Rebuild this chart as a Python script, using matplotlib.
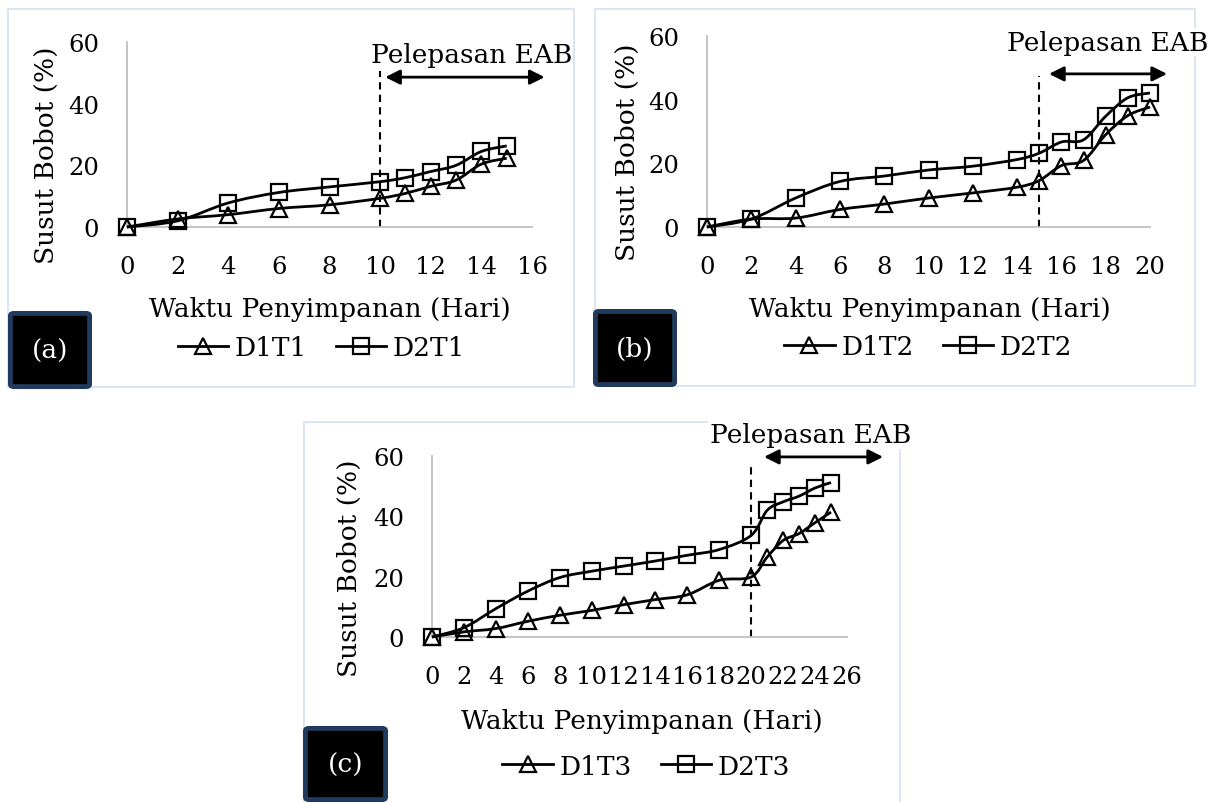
import numpy as np
import matplotlib
matplotlib.use("Agg")
import matplotlib.pyplot as plt
from matplotlib.path import Path
from matplotlib.patches import PathPatch, Rectangle, FancyBboxPatch
from matplotlib.lines import Line2D

plt.rcParams['font.family'] = ['DejaVu Serif']

# ---- data ----
hari_a = [0, 2, 4, 6, 8, 10, 11, 12, 13, 14, 15]
d1t1 = [0, 2.6, 4.0, 6.0, 7.2, 9.3, 10.9, 13.2, 15.2, 20.4, 22.3]
d2t1 = [0, 2.0, 7.8, 11.2, 13.0, 14.7, 16.0, 18.0, 20.0, 24.5, 26.3]

hari_b = [0, 2, 4, 6, 8, 10, 12, 14, 15, 16, 17, 18, 19, 20]
d1t2 = [0, 2.5, 2.8, 5.5, 7.2, 9.1, 10.7, 12.5, 14.6, 19.3, 20.9, 29.0, 35.0, 37.7]
d2t2 = [0, 2.5, 9.1, 14.3, 16.0, 17.9, 19.1, 21.2, 23.2, 26.7, 27.4, 34.8, 40.6, 42.1]

hari_c = [0, 2, 4, 6, 8, 10, 12, 14, 16, 18, 20, 21, 22, 23, 24, 25]
d1t3 = [0, 1.7, 2.8, 5.2, 7.2, 8.8, 10.7, 12.4, 14.0, 18.8, 19.9, 26.5, 32.0, 34.3, 37.9, 41.4]
d2t3 = [0, 3.1, 9.4, 15.2, 19.7, 21.8, 23.5, 25.2, 27.1, 29.0, 33.7, 42.0, 44.8, 46.7, 49.4, 51.2]

labels_a = ['D1T1', 'D2T1']
labels_b = ['D1T2', 'D2T2']
labels_c = ['D1T3', 'D2T3']
pelepasan = [10, 15, 20]      # hari mulai pelepasan EAB
xmax = [16, 20, 26]
yticks = [0, 20, 40, 60]

W, H = 1208, 803
fig = plt.figure(figsize=(W / 100, H / 100), dpi=100)


def px(x0, y0, x1, y1):
    # pixel box (top-left origin) -> figure fraction rect
    return [x0 / W, 1 - y1 / H, (x1 - x0) / W, (y1 - y0) / H]


def smooth_path(x, y):
    # excel-like smoothed line (catmull-rom as bezier)
    P = np.column_stack([x, y]).astype(float)
    n = len(P)
    verts = [P[0]]
    codes = [Path.MOVETO]
    for i in range(n - 1):
        p0 = P[i - 1] if i > 0 else P[i]
        p1 = P[i]
        p2 = P[i + 1]
        p3 = P[i + 2] if i + 2 < n else P[i + 1]
        verts += [p1 + (p2 - p0) / 6, p2 - (p3 - p1) / 6, p2]
        codes += [Path.CURVE4] * 3
    return Path(verts, codes)


FS_TICK = 17.5
FS_LAB = 19

panels = [
    dict(rect=px(127, 43, 532, 228), x=hari_a, s1=d1t1, s2=d2t1, lab=labels_a,
         rel=pelepasan[0], xmax=xmax[0], dash_top=50.6, arr=(10.2, 16.5, 48.6),
         txt=(13.6, 56.1), xl=(0.501, -0.443), yl=(-0.20, 0.395), lg=(0.481, -0.654),
         frame=(8, 10, 574, 388), box=(8, 312, 92, 390), tag='(a)'),
    dict(rect=px(707, 37, 1150, 228), x=hari_b, s1=d1t2, s2=d2t2, lab=labels_b,
         rel=pelepasan[1], xmax=xmax[1], dash_top=47.4, arr=(15.44, 20.77, 48.1),
         txt=(18.1, 58.1), xl=(0.503, -0.429), yl=(-0.18, 0.398), lg=(0.499, -0.628),
         frame=(595, 10, 1195, 387), box=(593, 310, 677, 388), tag='(b)'),
    dict(rect=px(432, 457, 847, 638), x=hari_c, s1=d1t3, s2=d2t3, lab=labels_c,
         rel=pelepasan[2], xmax=xmax[2], dash_top=58.0, arr=(20.8, 28.26, 59.7),
         txt=(23.7, 67.0), xl=(0.506, -0.464), yl=(-0.20, 0.387), lg=(0.516, -0.713),
         frame=(304, 423, 900, 806), box=(303, 727, 388, 803), tag='(c)'),
]

# frames first so they sit behind
for p in panels:
    x0, y0, x1, y1 = p['frame']
    fig.patches.append(Rectangle((x0 / W, 1 - y1 / H), (x1 - x0) / W, (y1 - y0) / H,
                                 transform=fig.transFigure, fill=False,
                                 edgecolor='#DAE3F3', linewidth=1.3, zorder=-1))

for p in panels:
    ax = fig.add_axes(p['rect'])
    ax.set_xlim(0, p['xmax'])
    ax.set_ylim(0, 60)
    ax.set_xticks(np.arange(0, p['xmax'] + 1, 2))
    ax.set_yticks(yticks)
    ax.tick_params(length=0, labelsize=FS_TICK)
    ax.tick_params(axis='x', pad=20)
    ax.tick_params(axis='y', pad=20)
    for s in ['top', 'right']:
        ax.spines[s].set_visible(False)
    for s in ['left', 'bottom']:
        ax.spines[s].set_color('#BFBFBF')
        ax.spines[s].set_linewidth(1.3)
    ax.patch.set_alpha(0)

    for yy, mk, ms in [(p['s1'], '^', 12), (p['s2'], 's', 12)]:
        ax.add_patch(PathPatch(smooth_path(p['x'], yy), fill=False, edgecolor='black',
                               linewidth=2.0, zorder=3, clip_on=False))
        ax.plot(p['x'], yy, ls='none', marker=mk, ms=ms, mfc='none', mec='black',
                mew=1.6, zorder=4, clip_on=False)

    # garis pelepasan EAB
    ax.plot([p['rel'], p['rel']], [0, p['dash_top']], color='black', lw=1.5,
            ls=(0, (3.5, 2.5)), zorder=2, clip_on=False)
    a0, a1, ay = p['arr']
    ax.annotate('', xy=(a1, ay), xytext=(a0, ay), xycoords='data',
                arrowprops=dict(arrowstyle='<|-|>', color='black', lw=2,
                                mutation_scale=22, shrinkA=0, shrinkB=0),
                annotation_clip=False)
    ax.text(p['txt'][0], p['txt'][1], 'Pelepasan EAB', ha='center', va='center',
            fontsize=FS_LAB, clip_on=False, zorder=1,
            bbox=dict(facecolor='white', edgecolor='none', pad=1))

    ax.set_xlabel('Waktu Penyimpanan (Hari)', fontsize=FS_LAB, va='center')
    ax.xaxis.set_label_coords(*p['xl'])
    ax.set_ylabel('Susut Bobot (%)', fontsize=FS_LAB, va='center')
    ax.yaxis.set_label_coords(*p['yl'])

    handles = [Line2D([], [], color='black', lw=2, marker='^', ms=12, mfc='none', mew=1.6),
               Line2D([], [], color='black', lw=2, marker='s', ms=12, mfc='none', mew=1.6)]
    ax.legend(handles, p['lab'], loc='center', bbox_to_anchor=p['lg'], ncol=2,
              frameon=False, fontsize=FS_LAB, handlelength=1.9, handletextpad=0.25,
              columnspacing=1.1, numpoints=1, borderaxespad=0)

    bx0, by0, bx1, by1 = p['box']
    fig.patches.append(FancyBboxPatch((bx0 / W + 0.002, 1 - by1 / H + 0.003),
                                      (bx1 - bx0) / W - 0.004, (by1 - by0) / H - 0.006,
                                      boxstyle='round,pad=0,rounding_size=0.003',
                                      transform=fig.transFigure, facecolor='black',
                                      edgecolor='#1F3A5C', linewidth=3.5, zorder=5))
    fig.text((bx0 + bx1) / 2 / W, 1 - (by0 + by1) / 2 / H, p['tag'], color='white',
             ha='center', va='center', fontsize=FS_LAB, zorder=6)

fig.savefig('out.png', dpi=100)
